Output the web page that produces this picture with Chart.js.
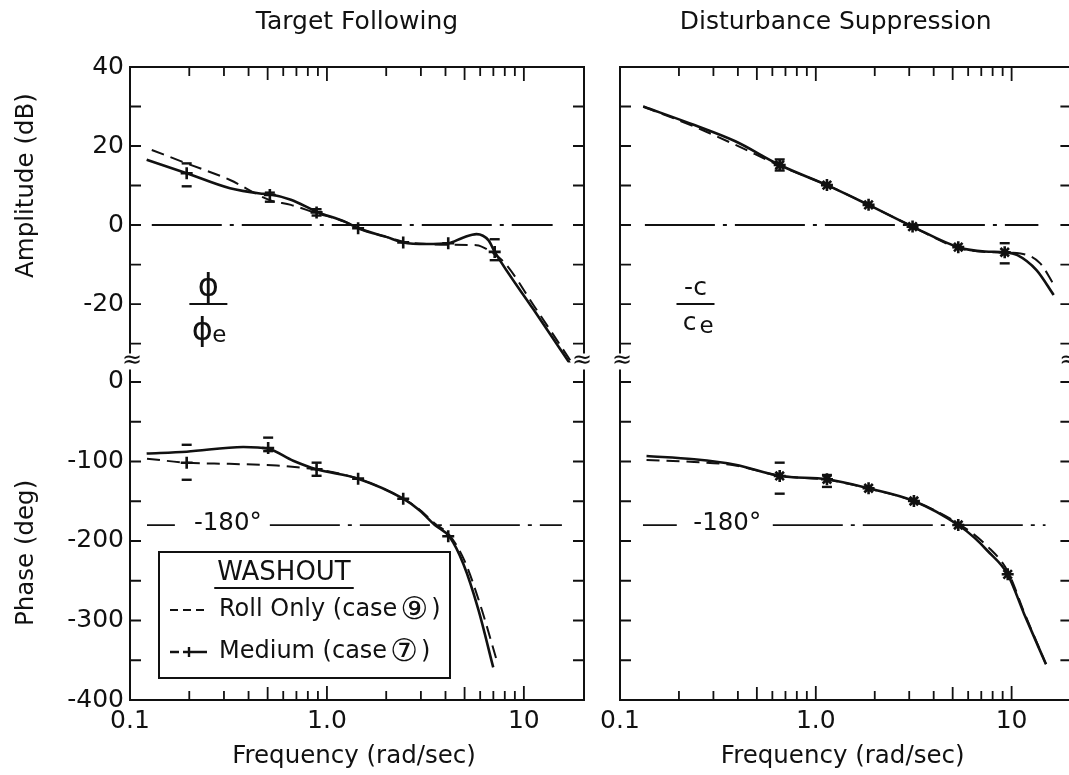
<!DOCTYPE html>
<html>
<head>
<meta charset="utf-8">
<script src="https://cdn.jsdelivr.net/npm/chart.js@4.4.1/dist/chart.umd.min.js"></script>
<style>
  html, body { margin: 0; padding: 0; background: #fff; width: 1069px; height: 775px; overflow: hidden; }
  canvas { position: absolute; top: 0; }
  #left { left: 0; }
  #right { left: 600px; }
</style>
</head>
<body>
<canvas id="left" width="600" height="775" style="width:600px;height:775px"></canvas>
<canvas id="right" width="480" height="775" style="width:480px;height:775px"></canvas>
<script>
// ---- Target following : amplitude (dB) ----
var tfAmpRollF = [0.129, 0.194, 0.322, 0.513, 0.656, 0.886, 1.24, 1.44, 2.0, 2.44, 3.2, 4.2, 5.75, 6.67, 8.0, 11.2, 17.4];
var tfAmpRoll  = [19.0, 15.6, 11.4, 6.3, 5.1, 3.0, 0.8, -0.8, -3.0, -4.2, -4.8, -5.0, -5.1, -6.5, -9.6, -20.3, -34.6];
var tfAmpMedF  = [0.1215, 0.194, 0.322, 0.457, 0.513, 0.656, 0.886, 1.24, 1.44, 2.0, 2.44, 3.2, 4.13, 4.9, 5.75, 6.62, 7.11, 11.2, 17.1];
var tfAmpMed   = [16.5, 13.1, 9.3, 8.0, 7.8, 6.4, 3.4, 0.8, -0.8, -3.0, -4.4, -4.8, -4.6, -3.2, -2.3, -3.9, -6.8, -21.4, -35.0];
var tfAmpPtF   = [0.194, 0.513, 0.886, 1.44, 2.44, 4.13, 7.11];
var tfAmpPt    = [13.1, 7.6, 3.2, -0.8, -4.4, -4.6, -6.8];
var tfAmpLo    = [9.8, 5.9, 2.4, null, null, null, -8.9];
var tfAmpHi    = [15.6, 8.2, 4.0, null, null, null, -3.6];

// ---- Target following : phase (deg) ----
var tfPhRollF = [0.122, 0.194, 0.32, 0.557, 0.75, 0.886, 1.44, 2.44, 2.97, 3.53, 4.2, 5.0, 6.0, 7.3];
var tfPhRoll  = [-96.5, -101.5, -103, -105, -108, -110, -121.6, -146.8, -161, -178, -193, -225, -280, -351];
var tfPhMedF  = [0.1215, 0.194, 0.376, 0.503, 0.674, 0.886, 1.44, 2.44, 2.97, 3.53, 4.2, 4.93, 5.87, 6.99];
var tfPhMed   = [-90, -87.7, -81.8, -84, -99, -109.8, -121.6, -146.8, -162, -180, -195, -229, -286, -359];
var tfPhPtF   = [0.194, 0.503, 0.886, 1.44, 2.44, 4.13];
var tfPhPt    = [-101.5, -83, -109.8, -121.6, -146.8, -194];
var tfPhLo    = [-123, -87, -118, null, null, null];
var tfPhHi    = [-79, -70, -101.5, null, null, null];

// ---- Disturbance suppression : amplitude (dB) ----
var dsAmpRollF = [0.1314, 0.24, 0.388, 0.654, 1.14, 1.86, 3.12, 5.34, 7.3, 9.22, 11.1, 14.0, 16.3];
var dsAmpRoll  = [30.0, 24.9, 20.3, 15.0, 10.1, 5.1, -0.4, -5.8, -6.8, -7.0, -7.2, -9.7, -14.8];
var dsAmpMedF  = [0.1314, 0.24, 0.388, 0.654, 1.14, 1.86, 3.12, 5.34, 7.3, 9.22, 10.7, 13.4, 16.4];
var dsAmpMed   = [30.0, 25.3, 21.2, 15.2, 10.1, 5.1, -0.4, -5.6, -6.7, -6.9, -7.6, -11.4, -17.7];
var dsAmpPtF   = [0.654, 1.14, 1.86, 3.12, 5.34, 9.22];
var dsAmpPt    = [15.2, 10.1, 5.1, -0.4, -5.6, -6.9];
var dsAmpLo    = [13.8, null, null, null, null, -9.7];
var dsAmpHi    = [16.6, null, null, null, null, -4.6];

// ---- Disturbance suppression : phase (deg) ----
var dsPhRollF = [0.1366, 0.239, 0.388, 0.654, 1.14, 1.86, 3.17, 5.34, 7.55, 9.55, 11.6, 14.98];
var dsPhRoll  = [-98, -100.6, -105, -118, -123, -134, -150, -178, -207, -238, -290, -355];
var dsPhMedF  = [0.1366, 0.239, 0.388, 0.654, 1.14, 1.86, 3.17, 5.34, 6.45, 7.55, 9.55, 11.6, 14.98];
var dsPhMed   = [-93.1, -97.2, -104, -118.2, -122.4, -133.7, -149.7, -179.9, -195.8, -212.6, -241.9, -292, -355];
var dsPhPtF   = [0.654, 1.14, 1.86, 3.17, 5.34, 9.55];
var dsPhPt    = [-118.2, -122.4, -133.7, -149.7, -179.9, -241.9];
var dsPhLo    = [-140.5, -132, null, null, null, null];
var dsPhHi    = [-101.5, -117, null, null, null, null];

// reference lines (0 dB and -180 deg), frequency extents
var zeroDb = 0;
var phase180 = -180;
var tfZeroF = [0.129, 14.0];
var dsZeroF = [0.134, 13.7];
var tf180Segs = [[0.122, 0.169], [0.513, 15.6]];
var ds180Segs = [[0.131, 0.195], [0.603, 14.9]];

// axes
var freqMin = 0.1, freqMax = 20.2;
var ampMin = -34.8, ampMax = 40;
var phMin = -400, phMax = 24.5;
var ampTicks = [30, 20, 10, 0, -10, -20, -30];
var ampLabels = [40, 20, 0, -20];
var phTicks = [0, -50, -100, -150, -200, -250, -300, -350];
var phLabels = [0, -100, -200, -300, -400];
var freqTicks = [0.2, 0.3, 0.4, 0.5, 0.6, 0.7, 0.8, 0.9, 1, 2, 3, 4, 5, 6, 7, 8, 9, 10];
var freqLabelVals = [0.1, 1, 10];
var freqLabels = ['0.1', '1.0', '10'];

var INK = '#111';
var FONT = '"DejaVu Sans", sans-serif';

function pts(fs, vs) {
  return fs.map(function (f, i) { return { x: f, y: vs[i] }; });
}

function curve(fs, vs, axis, dashed) {
  return {
    data: pts(fs, vs), yAxisID: axis,
    borderColor: INK, borderWidth: dashed ? 2 : 2.6,
    borderDash: dashed ? [13, 7] : [],
    pointRadius: 0, fill: false, cubicInterpolationMode: 'monotone'
  };
}

function marks(fs, vs, lo, hi, axis, style) {
  return {
    data: pts(fs, vs), yAxisID: axis, showLine: false,
    pointStyle: style, pointRadius: 6, pointBorderWidth: 2.6,
    pointBorderColor: INK, pointBackgroundColor: INK,
    errLo: lo, errHi: hi
  };
}

function refLine(segs, level, axis) {
  var d = [];
  segs.forEach(function (s, i) {
    if (i > 0) d.push({ x: Math.sqrt(segs[i - 1][1] * s[0]), y: null });
    d.push({ x: s[0], y: level });
    d.push({ x: s[1], y: level });
  });
  return {
    data: d, yAxisID: axis, borderColor: INK, borderWidth: 1.8,
    borderDash: [70, 8, 4, 8], pointRadius: 0, spanGaps: false, tension: 0
  };
}

function txt(ctx, s, x, y, size, align) {
  ctx.font = size + 'px ' + FONT;
  ctx.textAlign = align || 'center';
  ctx.textBaseline = 'middle';
  ctx.fillText(s, x, y);
  return ctx.measureText(s).width;
}

// legend entry text with a bigger circled case number
function caseText(ctx, name, num, x, y) {
  var w = txt(ctx, name + ' (case', x, y, 24, 'left');
  var w2 = txt(ctx, num, x + w + 3, y + 1, 31, 'left');
  txt(ctx, ')', x + w + w2 + 6, y, 24, 'left');
}

function tickLen(f) {
  var m = Math.round(f / Math.pow(10, Math.floor(Math.log10(f) + 1e-9)));
  if (m === 1) return 14;
  if (m === 5) return 13;
  return 9;
}

// frame, ticks, texts and error bars
var frame = {
  id: 'frame',
  afterDatasetsDraw: function (chart, args, opt) {
    var ctx = chart.ctx, a = chart.chartArea;
    var xs = chart.scales.x, amp = chart.scales.amp, ph = chart.scales.ph;
    var brk = amp.bottom;
    ctx.save();
    ctx.strokeStyle = INK;
    ctx.fillStyle = INK;

    // error bar caps
    chart.data.datasets.forEach(function (ds, i) {
      if (!ds.errLo) return;
      var sc = chart.scales[ds.yAxisID];
      chart.getDatasetMeta(i).data.forEach(function (p, j) {
        [ds.errLo[j], ds.errHi[j]].forEach(function (v) {
          if (v == null) return;
          var y = sc.getPixelForValue(v);
          ctx.lineWidth = 2.4;
          ctx.beginPath(); ctx.moveTo(p.x - 5, y); ctx.lineTo(p.x + 5, y); ctx.stroke();
        });
      });
    });

    // box with break
    ctx.lineWidth = 2;
    ctx.beginPath();
    ctx.moveTo(a.left, brk - 9); ctx.lineTo(a.left, a.top); ctx.lineTo(a.right, a.top); ctx.lineTo(a.right, brk - 9);
    ctx.moveTo(a.left, brk + 7); ctx.lineTo(a.left, a.bottom); ctx.lineTo(a.right, a.bottom); ctx.lineTo(a.right, brk + 7);
    ctx.stroke();

    // inward ticks
    ctx.lineWidth = 1.8;
    ctx.beginPath();
    ampTicks.forEach(function (v) {
      var y = amp.getPixelForValue(v);
      ctx.moveTo(a.left, y); ctx.lineTo(a.left + 11, y);
      ctx.moveTo(a.right, y); ctx.lineTo(a.right - 11, y);
    });
    phTicks.forEach(function (v) {
      var y = ph.getPixelForValue(v);
      ctx.moveTo(a.left, y); ctx.lineTo(a.left + 11, y);
      ctx.moveTo(a.right, y); ctx.lineTo(a.right - 11, y);
    });
    freqTicks.forEach(function (f) {
      var x = xs.getPixelForValue(f), L = tickLen(f);
      ctx.moveTo(x, a.top); ctx.lineTo(x, a.top + L);
      ctx.moveTo(x, a.bottom); ctx.lineTo(x, a.bottom - L);
    });
    ctx.stroke();

    // break marks
    txt(ctx, '≈', a.left + 2, brk - 2, 24);
    txt(ctx, '≈', a.right - 2, brk - 2, 24);

    // x tick labels and titles
    freqLabelVals.forEach(function (f, i) {
      txt(ctx, freqLabels[i], xs.getPixelForValue(f), a.bottom + 21, 25);
    });
    var cx = (a.left + a.right) / 2;
    txt(ctx, 'Frequency (rad/sec)', cx - 3, a.bottom + 57, 24.5);
    txt(ctx, opt.title, cx + opt.titleDx, 22, 25);

    // y labels (left column only)
    if (opt.yLabels) {
      ampLabels.forEach(function (v) { txt(ctx, String(v), a.left - 6, amp.getPixelForValue(v), 25, 'right'); });
      phLabels.forEach(function (v) { txt(ctx, String(v), a.left - 6, ph.getPixelForValue(v), 25, 'right'); });
      ctx.save();
      ctx.translate(27, amp.getPixelForValue(10));
      ctx.rotate(-Math.PI / 2);
      txt(ctx, 'Amplitude (dB)', 0, 0, 24.5);
      ctx.restore();
      ctx.save();
      ctx.translate(27, ph.getPixelForValue(-215));
      ctx.rotate(-Math.PI / 2);
      txt(ctx, 'Phase (deg)', 0, 0, 24.5);
      ctx.restore();
    }

    // -180 deg label
    txt(ctx, '-180°', xs.getPixelForValue(opt.deg180F), ph.getPixelForValue(phase180) - 1, 24.5);

    // transfer function fraction
    var fx = xs.getPixelForValue(opt.fracF), fy = amp.getPixelForValue(-20);
    ctx.lineWidth = 2;
    ctx.beginPath(); ctx.moveTo(fx - 19, fy); ctx.lineTo(fx + 19, fy); ctx.stroke();
    txt(ctx, opt.fracTop, fx, fy - 16, opt.fracSize);
    txt(ctx, opt.fracBot, fx - 6, fy + opt.fracGap, opt.fracSize);
    txt(ctx, 'e', fx + 11, fy + opt.fracGap + 4, 23);

    // legend box
    if (opt.legend) {
      var lx = a.left + 29, ly = a.bottom - 148;
      ctx.lineWidth = 2;
      ctx.strokeRect(lx, ly, 291, 126);
      var w = txt(ctx, 'WASHOUT', lx + 125, ly + 21, 26);
      ctx.beginPath(); ctx.moveTo(lx + 125 - w / 2 - 3, ly + 36); ctx.lineTo(lx + 125 + w / 2 + 3, ly + 36); ctx.stroke();
      ctx.setLineDash([8, 5]);
      ctx.beginPath(); ctx.moveTo(lx + 11, ly + 58); ctx.lineTo(lx + 48, ly + 58); ctx.stroke();
      ctx.setLineDash([]);
      ctx.lineWidth = 2.4;
      ctx.beginPath();
      ctx.moveTo(lx + 11, ly + 100); ctx.lineTo(lx + 20, ly + 100);
      ctx.moveTo(lx + 24, ly + 100); ctx.lineTo(lx + 48, ly + 100);
      ctx.moveTo(lx + 30, ly + 95); ctx.lineTo(lx + 30, ly + 105);
      ctx.stroke();
      caseText(ctx, 'Roll Only', '⑨', lx + 60, ly + 58);
      caseText(ctx, 'Medium', '⑦', lx + 60, ly + 100);
    }
    ctx.restore();
  }
};

function makeChart(id, d, opt, padL, padR) {
  var datasets = [
    refLine([d.zeroF], zeroDb, 'amp'),
    refLine(d.segs180, phase180, 'ph'),
    curve(d.ampRollF, d.ampRoll, 'amp', true),
    curve(d.ampMedF, d.ampMed, 'amp', false),
    marks(d.ampPtF, d.ampPt, d.ampLo, d.ampHi, 'amp', opt.marker),
    curve(d.phRollF, d.phRoll, 'ph', true),
    curve(d.phMedF, d.phMed, 'ph', false),
    marks(d.phPtF, d.phPt, d.phLo, d.phHi, 'ph', opt.marker)
  ];
  return new Chart(document.getElementById(id).getContext('2d'), {
    type: 'line',
    data: { datasets: datasets },
    options: {
      responsive: false,
      animation: false,
      events: [],
      layout: { padding: { left: padL, right: padR, top: 67, bottom: 75 } },
      plugins: { legend: { display: false }, tooltip: { enabled: false }, frame: opt },
      scales: {
        x: { type: 'logarithmic', min: freqMin, max: freqMax, display: false },
        amp: { type: 'linear', position: 'left', stack: 'col', stackWeight: 295.5, weight: 2, min: ampMin, max: ampMax, display: false },
        ph: { type: 'linear', position: 'left', stack: 'col', stackWeight: 337.5, weight: 1, min: phMin, max: phMax, display: false }
      }
    },
    plugins: [frame]
  });
}

makeChart('left', {
  zeroF: tfZeroF, segs180: tf180Segs,
  ampRollF: tfAmpRollF, ampRoll: tfAmpRoll, ampMedF: tfAmpMedF, ampMed: tfAmpMed,
  ampPtF: tfAmpPtF, ampPt: tfAmpPt, ampLo: tfAmpLo, ampHi: tfAmpHi,
  phRollF: tfPhRollF, phRoll: tfPhRoll, phMedF: tfPhMedF, phMed: tfPhMed,
  phPtF: tfPhPtF, phPt: tfPhPt, phLo: tfPhLo, phHi: tfPhHi
}, {
  title: 'Target Following', titleDx: 0, yLabels: true, legend: true, marker: 'cross',
  deg180F: 0.314, fracF: 0.25, fracTop: 'ϕ', fracBot: 'ϕ', fracSize: 32, fracGap: 28
}, 130, 16);

makeChart('right', {
  zeroF: dsZeroF, segs180: ds180Segs,
  ampRollF: dsAmpRollF, ampRoll: dsAmpRoll, ampMedF: dsAmpMedF, ampMed: dsAmpMed,
  ampPtF: dsAmpPtF, ampPt: dsAmpPt, ampLo: dsAmpLo, ampHi: dsAmpHi,
  phRollF: dsPhRollF, phRoll: dsPhRoll, phMedF: dsPhMedF, phMed: dsPhMed,
  phPtF: dsPhPtF, phPt: dsPhPt, phLo: dsPhLo, phHi: dsPhHi
}, {
  title: 'Disturbance Suppression', titleDx: -10, yLabels: false, legend: false, marker: 'star',
  deg180F: 0.353, fracF: 0.243, fracTop: '-c', fracBot: 'c', fracSize: 25, fracGap: 19
}, 20, 6);
</script>
</body>
</html>
